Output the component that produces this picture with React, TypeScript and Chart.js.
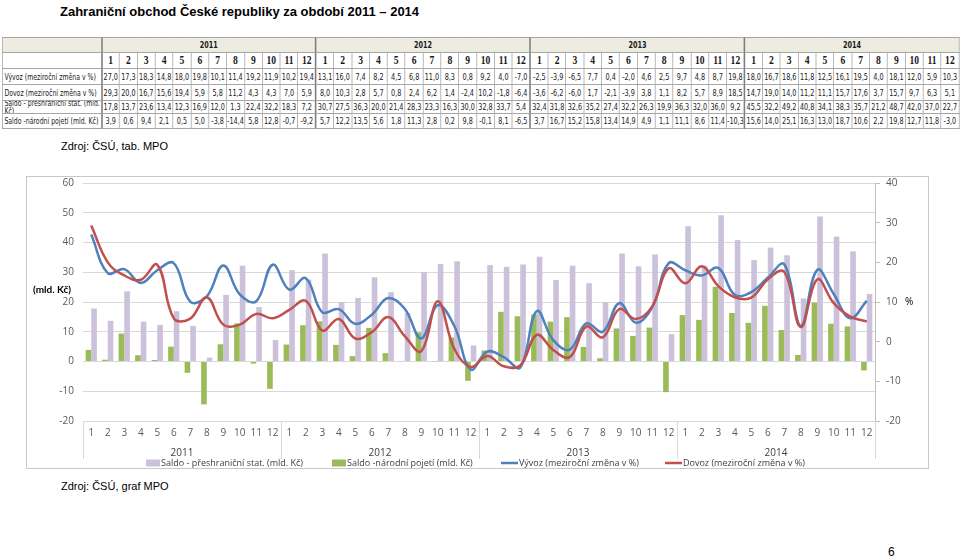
import React, { useEffect, useRef } from "react";
import { Chart, registerables } from "chart.js";

Chart.register(...registerables);

const years = ["2011", "2012", "2013", "2014"];
const months = ["1", "2", "3", "4", "5", "6", "7", "8", "9", "10", "11", "12"];

const vyvoz = [
  27.0, 17.3, 18.3, 14.8, 18.0, 19.8, 10.1, 11.4, 19.2, 11.9, 10.2, 19.4,
  13.1, 16.0, 7.4, 8.2, 4.5, 6.8, 11.0, 8.3, 0.8, 9.2, 4.0, -7.0,
  -2.5, -3.9, -6.5, 7.7, 0.4, -2.0, 4.6, 2.5, 9.7, 4.8, 8.7, 19.8,
  18.0, 16.7, 18.6, 11.8, 12.5, 16.1, 19.5, 4.0, 18.1, 12.0, 5.9, 10.3,
];
const dovoz = [
  29.3, 20.0, 16.7, 15.6, 19.4, 5.9, 5.8, 11.2, 4.3, 4.3, 7.0, 5.9,
  8.0, 10.3, 2.8, 5.7, 0.8, 2.4, 6.2, 1.4, -2.4, 10.2, -1.8, -6.4,
  -3.6, -6.2, -6.0, 1.7, -2.1, -3.9, 3.8, 1.1, 8.2, 5.7, 8.9, 18.5,
  14.7, 19.0, 14.0, 11.2, 11.1, 15.7, 17.6, 3.7, 15.7, 9.7, 6.3, 5.1,
];
const saldoPreshr = [
  17.8, 13.7, 23.6, 13.4, 12.3, 16.9, 12.0, 1.3, 22.4, 32.2, 18.3, 7.2,
  30.7, 27.5, 36.3, 20.0, 21.4, 28.3, 23.3, 16.3, 30.0, 32.8, 33.7, 5.4,
  32.4, 31.8, 32.6, 35.2, 27.4, 32.2, 26.3, 19.9, 36.3, 32.0, 36.0, 9.2,
  45.5, 32.2, 49.2, 40.8, 34.1, 38.3, 35.7, 21.2, 48.7, 42.0, 37.0, 22.7,
];
const saldoNar = [
  3.9, 0.6, 9.4, 2.1, 0.5, 5.0, -3.8, -14.4, 5.8, 12.8, -0.7, -9.2,
  5.7, 12.2, 13.5, 5.6, 1.8, 11.3, 2.8, 0.2, 9.8, -0.1, 8.1, -6.5,
  3.7, 16.7, 15.2, 15.8, 13.4, 14.9, 4.9, 1.1, 11.1, 8.6, 11.4, -10.3,
  15.6, 14.0, 25.1, 16.3, 13.0, 18.7, 10.6, 2.2, 19.8, 12.7, 11.8, -3.0,
];

const labelVyvoz = "Vývoz (meziroční změna v %)";
const labelDovoz = "Dovoz (meziroční změna v %)";
const labelPreshr = "Saldo - přeshraniční stat. (mld. Kč)";
const labelNar = "Saldo -národní pojetí (mld. Kč)";

const leftTicks = { min: -20, max: 60, step: 10 };
const rightTicks = { min: -20, max: 40, step: 10 };

const categories: string[] = [];
years.forEach(() => months.forEach((m) => categories.push(m)));

const FONT = "'Open Sans', 'Noto Sans', sans-serif";
const fmt = (v: number) => v.toFixed(1).replace(".", ",");

const extrasPlugin = {
  id: "extras",
  afterDraw(chart: any) {
    const { ctx, chartArea, scales } = chart;
    const x = scales.x;
    ctx.save();
    // group separators
    ctx.strokeStyle = "#d9d9d9";
    ctx.lineWidth = 1;
    for (let g = 0; g <= years.length; g++) {
      let px: number;
      if (g === 0) px = chartArea.left;
      else if (g === years.length) px = chartArea.right;
      else px = (x.getPixelForValue(g * 12 - 1) + x.getPixelForValue(g * 12)) / 2;
      px = Math.round(px) + 0.5;
      ctx.beginPath();
      ctx.moveTo(px, chartArea.bottom);
      ctx.lineTo(px, chartArea.bottom + 38);
      ctx.stroke();
    }
    // year labels
    ctx.fillStyle = "#404040";
    ctx.font = `10px ${FONT}`;
    ctx.textAlign = "center";
    ctx.textBaseline = "middle";
    years.forEach((y, g) => {
      const c = (x.getPixelForValue(g * 12) + x.getPixelForValue(g * 12 + 11)) / 2;
      ctx.fillText(y, c, chartArea.bottom + 32);
    });
    // axis titles
    ctx.font = `bold 10px Lato, ${FONT}`;
    ctx.textAlign = "left";
    ctx.fillStyle = "#000";
    ctx.fillText("(mld. Kč)", 6, 113);
    ctx.font = `10px ${FONT}`;
    ctx.fillText("%", 878, 125);
    // legend
    const legendX = [119, 305, 474, 638];
    const ly = 286;
    const ds = chart.data.datasets;
    ctx.font = `9px ${FONT}`;
    ds.forEach((d: any, k: number) => {
      const lx = legendX[k];
      let tx: number;
      if (d.type === "line") {
        ctx.strokeStyle = d.borderColor;
        ctx.lineWidth = 2.5;
        ctx.beginPath();
        ctx.moveTo(lx, ly);
        ctx.lineTo(lx + 17, ly);
        ctx.stroke();
        tx = lx + 18;
      } else {
        ctx.fillStyle = d.backgroundColor;
        ctx.fillRect(lx, ly - 3.5, 14, 7);
        tx = lx + 15;
      }
      ctx.fillStyle = "#404040";
      ctx.fillText(d.label, tx, ly);
    });
    ctx.restore();
  },
};

function ChartBox() {
  const ref = useRef<HTMLCanvasElement | null>(null);
  useEffect(() => {
    if (!ref.current) return;
    const fixV = (w: number) => (s: any) => {
      s.width = w;
      s.paddingTop = 6;
      s.paddingBottom = 0;
    };
    const chart = new Chart(ref.current, {
      type: "bar",
      data: {
        labels: categories,
        datasets: [
          {
            type: "bar",
            label: labelPreshr,
            data: saldoPreshr,
            backgroundColor: "#ccc1da",
            yAxisID: "y",
            order: 3,
            barPercentage: 1,
            categoryPercentage: 0.68,
          },
          {
            type: "bar",
            label: labelNar,
            data: saldoNar,
            backgroundColor: "#9bbb59",
            yAxisID: "y",
            order: 2,
            barPercentage: 1,
            categoryPercentage: 0.68,
          },
          {
            type: "line",
            label: labelVyvoz,
            data: vyvoz,
            borderColor: "#4f81bd",
            backgroundColor: "#4f81bd",
            borderWidth: 2.5,
            pointRadius: 0,
            tension: 0.4,
            yAxisID: "y1",
            order: 1,
          },
          {
            type: "line",
            label: labelDovoz,
            data: dovoz,
            borderColor: "#c0504d",
            backgroundColor: "#c0504d",
            borderWidth: 2.5,
            pointRadius: 0,
            tension: 0.4,
            yAxisID: "y1",
            order: 0,
          },
        ] as any,
      },
      options: {
        animation: false,
        responsive: false,
        devicePixelRatio: 1,
        layout: { padding: 0 },
        plugins: { legend: { display: false }, tooltip: { enabled: false } },
        scales: {
          x: {
            type: "category",
            offset: true,
            grid: { display: false, drawTicks: false },
            border: { display: false },
            ticks: {
              color: "#595959",
              font: { size: 10, family: FONT },
              padding: 6,
              maxRotation: 0,
              autoSkip: false,
            },
            afterFit(s: any) {
              s.height = 47;
              s.paddingLeft = 0;
              s.paddingRight = 0;
            },
          },
          y: {
            position: "left",
            min: leftTicks.min,
            max: leftTicks.max,
            ticks: {
              stepSize: leftTicks.step,
              color: "#595959",
              font: { size: 10, family: FONT },
              padding: 9,
            },
            grid: { color: "#d9d9d9", drawTicks: false },
            border: { display: false },
            afterFit: fixV(56),
          },
          y1: {
            position: "right",
            min: rightTicks.min,
            max: rightTicks.max,
            ticks: {
              stepSize: rightTicks.step,
              color: "#595959",
              font: { size: 10, family: FONT },
              padding: 6,
            },
            grid: { drawOnChartArea: false, color: "#bfbfbf", tickLength: 5, drawTicks: true },
            border: { display: true, color: "#bfbfbf" },
            afterFit: fixV(53),
          },
        } as any,
      },
      plugins: [extrasPlugin],
    });
    return () => chart.destroy();
  }, []);
  return <canvas ref={ref} width={901} height={291} style={{ width: 901, height: 291, display: "block" }} />;
}

const rows = [
  { label: labelVyvoz, values: vyvoz, h: 16 },
  { label: labelDovoz, values: dovoz, h: 16 },
  { label: labelPreshr, values: saldoPreshr, h: 13, clipped: true },
  { label: labelNar, values: saldoNar, h: 15 },
];

function DataTable() {
  const W = 1195;
  const firstW = 124;
  const colW = (W - firstW) / 48;
  const bd = "1px solid #a6a6a6";
  const yearBd = "2px solid #7f7f7f";
  const cellBase: React.CSSProperties = {
    padding: 0,
    textAlign: "center",
    borderTop: bd,
    borderBottom: bd,
    borderLeft: bd,
    borderRight: bd,
    overflow: "hidden",
    whiteSpace: "nowrap",
  };
  return (
    <div
      style={{
        position: "absolute",
        left: 2,
        top: 37,
        width: W,
        transform: "scaleX(0.8)",
        transformOrigin: "0 0",
      }}
    >
      <table
        style={{
          width: W,
          tableLayout: "fixed",
          borderCollapse: "collapse",
          fontFamily: "'Liberation Sans Narrow', 'DejaVu Sans Condensed', sans-serif",
          fontSize: 9,
          color: "#1a1a1a",
          border: "1px solid #7f7f7f",
        }}
      >
        <colgroup>
          <col style={{ width: firstW }} />
          {categories.map((_, i) => (
            <col key={i} style={{ width: colW }} />
          ))}
        </colgroup>
        <tbody>
          <tr style={{ height: 15, background: "#eeece1" }}>
            <td style={{ ...cellBase, borderRight: yearBd }} />
            {years.map((y, g) => (
              <td
                key={y}
                colSpan={12}
                style={{ ...cellBase, fontWeight: "bold", fontSize: 9, borderLeft: g ? yearBd : bd }}
              >
                {y}
              </td>
            ))}
          </tr>
          <tr style={{ height: 16 }}>
            <td style={{ ...cellBase, borderRight: yearBd }} />
            {categories.map((m, i) => (
              <td
                key={i}
                style={{
                  ...cellBase,
                  fontFamily: "'Liberation Serif', 'DejaVu Serif', serif",
                  fontWeight: "bold",
                  fontSize: 12,
                  borderLeft: i % 12 === 0 && i ? yearBd : "1px solid #404040",
                }}
              >
                {m}
              </td>
            ))}
          </tr>
          {rows.map((r) => (
            <tr key={r.label} style={{ height: r.h }}>
              <td style={{ ...cellBase, textAlign: "left", paddingLeft: 2, borderRight: yearBd, fontSize: 8.6 }}>
                {r.clipped ? (
                  <div style={{ height: r.h - 1, overflow: "hidden" }}>
                    <div style={{ lineHeight: "8px", marginTop: -2 }}>
                      Saldo - přeshraniční stat. (mld.
                      <br />
                      Kč)
                    </div>
                  </div>
                ) : (
                  r.label
                )}
              </td>
              {r.values.map((v, i) => (
                <td key={i} style={{ ...cellBase, borderLeft: i % 12 === 0 && i ? yearBd : bd }}>
                  {fmt(v)}
                </td>
              ))}
            </tr>
          ))}
        </tbody>
      </table>
    </div>
  );
}

export default function App() {
  const textFont = "'Liberation Sans', Arial, sans-serif";
  return (
    <div
      style={{
        position: "absolute",
        left: 0,
        top: 0,
        width: 960,
        height: 559,
        background: "#fff",
        overflow: "hidden",
        fontFamily: textFont,
      }}
    >
      <div
        style={{
          position: "absolute",
          left: 60,
          top: 4,
          fontSize: 13,
          fontWeight: "bold",
          color: "#000",
          whiteSpace: "nowrap",
        }}
      >
        Zahraniční obchod České republiky za období 2011 – 2014
      </div>
      <DataTable />
      <div style={{ position: "absolute", left: 61, top: 140, fontSize: 11, color: "#000" }}>
        Zdroj: ČSÚ, tab. MPO
      </div>
      <div
        style={{
          position: "absolute",
          left: 26,
          top: 176,
          width: 903,
          height: 293,
          border: "1px solid #c8c8c8",
          boxSizing: "border-box",
        }}
      >
        <div style={{ position: "absolute", left: 0, top: 0 }}>
          <ChartBox />
        </div>
      </div>
      <div style={{ position: "absolute", left: 61, top: 480, fontSize: 11, color: "#000" }}>
        Zdroj: ČSÚ, graf MPO
      </div>
      <div style={{ position: "absolute", left: 888, top: 545, fontSize: 12, color: "#000" }}>6</div>
    </div>
  );
}
